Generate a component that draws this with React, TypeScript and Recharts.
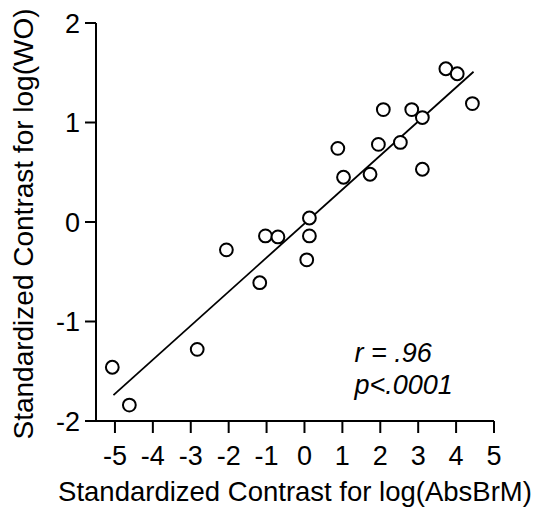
import React from 'react';
import {
  ScatterChart, Scatter, XAxis, YAxis, ReferenceLine, ReferenceDot
} from 'recharts';

// standardized contrasts
const contrastBrM = [
  3.73, 4.03, 4.43, 2.08, 2.83, 3.11, 0.88, 1.95, 2.53, 1.03, 1.73, 3.11, 0.13,
  -1.03, -0.70, 0.13, -2.06, 0.06, -1.18, -2.83, -5.07, -4.62,
];
const contrastWO = [
  1.54, 1.49, 1.19, 1.13, 1.13, 1.05, 0.74, 0.78, 0.80, 0.45, 0.48, 0.53, 0.04,
  -0.14, -0.15, -0.14, -0.28, -0.38, -0.61, -1.28, -1.46, -1.84,
];

// fitted regression line end points
const fitX = [-5.04, 4.46];
const fitY = [-1.74, 1.51];

const xTicks = [-5, -4, -3, -2, -1, 0, 1, 2, 3, 4, 5];
const yTicks = [-2, -1, 0, 1, 2];

const statLines = ['r = .96', 'p<.0001'];

const font = '"Liberation Sans", Arial, sans-serif';

const points = contrastBrM.map((x, i) => ({ x, y: contrastWO[i] }));

const OpenCircle = (props: any) => (
  <circle cx={props.cx} cy={props.cy} r={6.4} fill="#fff" stroke="#000" strokeWidth={2} />
);

const XTitle = ({ viewBox }: any) => (
  <text
    x={viewBox.x + viewBox.width / 2}
    y={viewBox.y + 80}
    textAnchor="middle"
    fontSize={27.5}
    fontFamily={font}
    fill="#000"
  >
    Standardized Contrast for log(AbsBrM)
  </text>
);

const YTitle = ({ viewBox }: any) => {
  const cx = 33;
  const cy = viewBox.y + viewBox.height / 2 + 2;
  return (
    <text
      x={cx}
      y={cy}
      transform={`rotate(-90, ${cx}, ${cy})`}
      textAnchor="middle"
      fontSize={28}
      fontFamily={font}
      fill="#000"
    >
      Standardized Contrast for log(WO)
    </text>
  );
};

const StatText = (props: any) => (
  <text fontSize={27} fontStyle="italic" fontFamily={font} fill="#000">
    <tspan x={props.cx} y={props.cy}>{statLines[0]}</tspan>
    <tspan x={props.cx} y={props.cy + 32}>{statLines[1]}</tspan>
  </text>
);

export default function App() {
  const line = { stroke: '#000', strokeWidth: 2 };
  const tick = { fontSize: 27, fill: '#000', fontFamily: font };
  return (
    <div style={{ position: 'absolute', left: 0, top: 0, background: '#fff' }}>
      <ScatterChart width={539} height={514} margin={{ top: 23, right: 45, bottom: 0, left: 0 }}>
        <XAxis
          type="number"
          dataKey="x"
          domain={[-5.5, 5]}
          ticks={xTicks}
          interval={0}
          axisLine={line}
          tickLine={line}
          tickSize={12}
          tickMargin={13}
          tick={tick}
          height={93}
          label={<XTitle />}
        />
        <YAxis
          type="number"
          dataKey="y"
          domain={[-2, 2]}
          ticks={yTicks}
          interval={0}
          axisLine={line}
          tickLine={line}
          tickSize={11}
          tickMargin={5}
          tick={tick}
          width={96}
          label={<YTitle />}
        />
        <ReferenceLine
          segment={[{ x: fitX[0], y: fitY[0] }, { x: fitX[1], y: fitY[1] }]}
          stroke="#000"
          strokeWidth={1.8}
          ifOverflow="visible"
        />
        <Scatter data={points} shape={OpenCircle} isAnimationActive={false} />
        <ReferenceDot x={1.32} y={-1.41} r={0} shape={StatText} ifOverflow="visible" />
      </ScatterChart>
    </div>
  );
}
